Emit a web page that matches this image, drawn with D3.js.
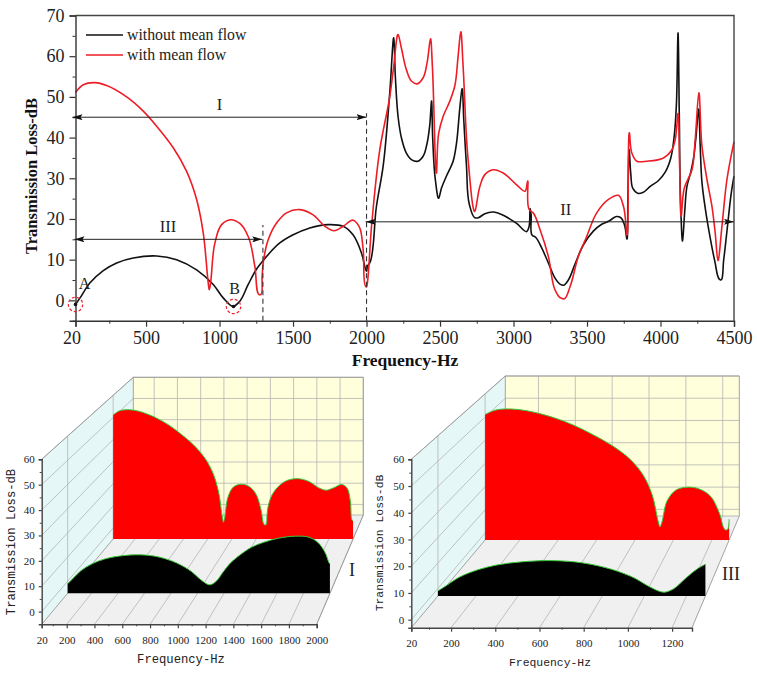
<!DOCTYPE html>
<html>
<head>
<meta charset="utf-8">
<script src="https://cdn.jsdelivr.net/npm/d3@7"></script>
<style>
html,body{margin:0;padding:0;background:#fff;}
svg{display:block;}
</style>
</head>
<body>
<svg id="chart" width="757" height="674"></svg>
<script>
// Transmission loss without mean flow: frequency (Hz)
const withoutFlowFreq = [20,51,119,209,300,413,572,708,844,957,1025,1093,1138,1195,1252,1290,1320,1410,1501,1614,1739,1841,1908,1966,1995,2000,2006,2022,2067,2113,2158,2185,2196,2215,2237,2271,2305,2350,2385,2412,2430,2442,2450,2467,2491,2510,2543,2589,2612,2634,2650,2662,2680,2700,2737,2760,2805,2862,2930,3021,3090,3105,3113,3120,3127,3150,3190,3237,3282,3316,3340,3373,3419,3475,3543,3600,3650,3700,3730,3755,3771,3778,3787,3798,3812,3845,3880,3930,3985,4032,4070,4095,4108,4119,4128,4136,4150,4165,4180,4205,4225,4241,4259,4270,4282,4305,4340,4370,4400,4410,4430,4455,4480,4500];
// Transmission loss without mean flow: level (dB)
const withoutFlowLoss = [-1,0.6,4.3,7.3,9.2,10.4,10.9,10,7.5,3.9,0.6,-1.5,-0.2,3.9,7.7,9.5,10.8,14.1,16.1,17.8,18.6,18.2,16.1,11.6,7.5,7.2,8.4,9.2,23,33,51,64.5,55,45,40,36.2,34.6,34.2,35.4,38.6,43,49,40,30,25.1,27.6,30.5,34.2,38.6,47,52,44,33,23.5,20.3,20.3,21.3,21.7,20.9,18.9,16.9,18,22.5,21,16,15.5,13,9.2,5.5,4,3.7,5,9,13.6,17,18.7,19.5,20.6,20.3,18.5,15.1,25,37,31,27.5,26.3,26.5,28,29.4,31.5,35,41,48,65.7,45,25,14.6,22,28,31.4,35,40,47,38,29,22.5,15,9.5,5.2,5,10,18,26,30.5];

// Transmission loss with mean flow: frequency (Hz)
const withFlowFreq = [20,73,153,232,368,481,572,685,776,844,889,923,930,939,968,1014,1075,1138,1195,1240,1270,1280,1290,1297,1331,1388,1456,1546,1637,1716,1779,1841,1908,1949,1977,1995,2000,2004,2034,2090,2158,2185,2215,2237,2271,2305,2344,2385,2412,2435,2448,2476,2491,2521,2566,2600,2623,2641,2657,2691,2737,2771,2805,2862,2930,3021,3078,3096,3107,3134,3180,3237,3282,3316,3346,3385,3441,3498,3566,3646,3714,3748,3771,3789,3805,3839,3907,4021,4078,4100,4119,4130,4141,4162,4214,4236,4261,4282,4316,4350,4372,4391,4418,4452,4500];
// Transmission loss with mean flow: level (dB)
const withFlowLoss = [51.1,53,53.5,52.8,50,46.5,42.8,37.5,31.7,24.8,16.6,4.3,2.6,4.3,14,18.6,19.8,18.9,15.7,8.4,1.4,1.4,6,9.2,14.9,19,21.5,22.3,21,18.2,17.1,18.2,19.7,18.2,12.5,3.4,3.3,3.9,18.2,37,50,57.5,65.3,62,56.7,53.9,53.2,54.7,58.4,64.3,57.5,31.3,41.1,45.2,48.9,52.6,60,66,57.5,34.6,21.9,28,30.9,32.1,31.3,28.4,26.8,29.3,22.3,21.5,17.4,10.8,2.6,0.7,0.4,3.4,10.8,15.7,21.5,24.8,25.8,23.1,16.1,41.1,36.2,34.2,34.2,35,37,39.5,45.9,33,20.7,27.6,32.1,39.5,51,37.9,29.7,23.1,16.6,9.8,18.2,29.7,39];

// Main panel ticks
const mainFreqTicks = [20,500,1000,1500,2000,2500,3000,3500,4000,4500];
const mainFreqMinor = [250,750,1250,1750,2250,2750,3250,3750,4250];
const mainLossTicks = [0,10,20,30,40,50,60,70];
const mainLossMinor = [-5,5,15,25,35,45,55,65];

// Series names and colours
const seriesNames = ["without mean flow","with mean flow"];
const seriesColors = ["#111111","#ee1c25"];

// Band annotations on the main panel: start Hz, end Hz, level dB, name
const bandNames = ["I","III","II"];
const bandStart = [20,20,2000];
const bandEnd = [2000,1290,4500];
const bandLevel = [45,15,19.3];

// Ticks of the two band panels
const bandIFreqTicks = [20,200,400,600,800,1000,1200,1400,1600,1800,2000];
const bandIFreqMinor = [100,300,500,700,900,1100,1300,1500,1700,1900];
const bandIIIFreqTicks = [20,200,400,600,800,1000,1200];
const bandIIIFreqMinor = [100,300,500,700,900,1100];
const bandLossTicks = [0,10,20,30,40,50,60];

const svg = d3.select("#chart");
const zip = (xs, ys) => xs.map((f, i) => ({f, v: ys[i]}));
const without = zip(withoutFlowFreq, withoutFlowLoss);
const withFlow = zip(withFlowFreq, withFlowLoss);
const SERIF = "'Liberation Serif', serif";
const MONO = "'Liberation Mono', monospace";
const smooth = d3.curveCatmullRom.alpha(0.7);

/* ---------- main panel ---------- */
const x = d3.scaleLinear().domain([20, 4500]).range([75.5, 734]);
const y = d3.scaleLinear().domain([-5, 70]).range([320.7, 15.5]);
const mainLine = d3.line().x(d => x(d.f)).y(d => y(d.v)).curve(smooth);

const main = svg.append("g");
const defs = svg.append("defs");
["start","end"].forEach(kind => {
  defs.append("marker").attr("id", "arrow-" + kind)
    .attr("markerUnits", "userSpaceOnUse")
    .attr("viewBox", "0 0 10 6").attr("refX", kind === "end" ? 10 : 0).attr("refY", 3)
    .attr("markerWidth", 10).attr("markerHeight", 6).attr("orient", "auto")
    .append("path")
    .attr("d", kind === "end" ? "M0,0L10,3L0,6L2,3Z" : "M10,0L0,3L10,6L8,3Z")
    .attr("fill", "#111");
});

main.append("path").datum(without).attr("d", mainLine)
  .attr("fill", "none").attr("stroke", seriesColors[0]).attr("stroke-width", 1.6);
main.append("path").datum(withFlow).attr("d", mainLine)
  .attr("fill", "none").attr("stroke", seriesColors[1]).attr("stroke-width", 1.6);

// Frame
main.append("path")
  .attr("d", `M${x(20)},${y(70)}H${x(4500)}V${y(-5)}`)
  .attr("fill", "none").attr("stroke", "#444").attr("stroke-width", 1.4);

function styleAxis(g, size, family, color) {
  g.selectAll(".domain").attr("stroke", color).attr("stroke-width", 1.4);
  g.selectAll(".tick line").attr("stroke", color).attr("stroke-width", 1.2);
  g.selectAll(".tick text").attr("font-size", size).attr("font-family", family).attr("fill", "#222");
}
const bottom = main.append("g").attr("transform", `translate(0,${y(-5)})`)
  .call(d3.axisBottom(x).tickValues(mainFreqTicks).tickFormat(d3.format("d")).tickSize(6).tickPadding(5));
styleAxis(bottom, 18, SERIF, "#333");
bottom.selectAll(".tick text").filter(d => d === 20).attr("dx", -4);
main.append("g").attr("transform", `translate(0,${y(-5)})`)
  .call(d3.axisBottom(x).tickValues(mainFreqMinor).tickFormat("").tickSize(3))
  .call(g => { g.select(".domain").remove(); g.selectAll("line").attr("stroke", "#333"); });
const left = main.append("g").attr("transform", `translate(${x(20)},0)`)
  .call(d3.axisLeft(y).tickValues(mainLossTicks).tickFormat(d3.format("d")).tickSize(6).tickPadding(5));
styleAxis(left, 18, SERIF, "#333");
main.append("g").attr("transform", `translate(${x(20)},0)`)
  .call(d3.axisLeft(y).tickValues(mainLossMinor).tickFormat("").tickSize(3))
  .call(g => { g.select(".domain").remove(); g.selectAll("line").attr("stroke", "#333"); });

main.append("text").attr("transform", "translate(37,176) rotate(-90)")
  .attr("text-anchor", "middle").attr("font-family", SERIF).attr("font-weight", "bold")
  .attr("font-size", 16.5).attr("fill", "#111").text("Transmission Loss-dB");
main.append("text").attr("x", 405).attr("y", 366)
  .attr("text-anchor", "middle").attr("font-family", SERIF).attr("font-weight", "bold")
  .attr("font-size", 17.5).attr("fill", "#111").text("Frequency-Hz");

// Legend
seriesNames.forEach((name, i) => {
  const ly = 35 + i * 20;
  main.append("line").attr("x1", 86).attr("x2", 123).attr("y1", ly).attr("y2", ly)
    .attr("stroke", seriesColors[i]).attr("stroke-width", 1.5);
  main.append("text").attr("x", 127).attr("y", ly + 5).attr("font-family", SERIF)
    .attr("font-size", 15.8).attr("fill", "#222").text(name);
});

// Dashed band limits
[[1295, 18.5], [2000, 46]].forEach(([f, top]) => {
  main.append("line").attr("x1", x(f)).attr("x2", x(f)).attr("y1", y(-5)).attr("y2", y(top))
    .attr("stroke", "#333").attr("stroke-width", 1.1).attr("stroke-dasharray", "5,3.5");
});

// Band arrows with their names
const bandLabelFreq = [1000, 650, 3355];
bandNames.forEach((name, i) => {
  main.append("line")
    .attr("x1", x(bandStart[i]) - (i === 0 ? 3 : 1)).attr("x2", x(bandEnd[i]))
    .attr("y1", y(bandLevel[i])).attr("y2", y(bandLevel[i]))
    .attr("stroke", "#222").attr("stroke-width", 1)
    .attr("marker-start", "url(#arrow-start)").attr("marker-end", "url(#arrow-end)");
  main.append("text").attr("x", x(bandLabelFreq[i])).attr("y", y(bandLevel[i]) - 7)
    .attr("text-anchor", "middle").attr("font-family", SERIF).attr("font-size", 16.5)
    .attr("fill", "#222").text(name);
});

// Marked points A and B
[["A", 20, -1, 9, -15], ["B", 1095, -1.5, 1, -12]].forEach(([name, f, v, dx, dy]) => {
  main.append("circle").attr("cx", x(f)).attr("cy", y(v)).attr("r", 7.2)
    .attr("fill", "none").attr("stroke", "#ee2233").attr("stroke-width", 1.2).attr("stroke-dasharray", "3,2");
  main.append("circle").attr("cx", x(f)).attr("cy", y(v)).attr("r", 1.8).attr("fill", "#111");
  main.append("text").attr("x", x(f) + dx).attr("y", y(v) + dy).attr("text-anchor", "middle")
    .attr("font-family", SERIF).attr("font-size", 16).attr("fill", "#222").text(name);
});

/* ---------- band panels in oblique view ---------- */
const lerp = (a, b, t) => a + (b - a) * t;

function bandPanel(o) {
  const g = svg.append("g");
  const fx0 = d3.scaleLinear().domain(o.freqDomain).range(o.frontX);
  const fx1 = d3.scaleLinear().domain(o.freqDomain).range(o.backX);
  const vy0 = d3.scaleLinear().domain(o.lossDomain).range(o.frontY);
  const vy1 = d3.scaleLinear().domain(o.lossDomain).range(o.backY);
  const px = (f, d) => lerp(fx0(f), fx1(f), d);
  const py = (v, d) => lerp(vy0(v), vy1(v), d);
  const poly = pts => "M" + pts.map(p => p.join(",")).join("L") + "Z";
  const [f0, f1] = o.freqDomain, [v0, v1] = o.lossDomain;

  g.append("path").attr("d", poly([[px(f0,1),py(v0,1)],[px(f1,1),py(v0,1)],[px(f1,1),py(v1,1)],[px(f0,1),py(v1,1)]]))
    .attr("fill", "#ffffdc");
  g.append("path").attr("d", poly([[px(f0,0),py(v0,0)],[px(f0,1),py(v0,1)],[px(f0,1),py(v1,1)],[px(f0,0),py(v1,0)]]))
    .attr("fill", "#e6f7f7");
  g.append("path").attr("d", poly([[px(f0,0),py(v0,0)],[px(f1,0),py(v0,0)],[px(f1,1),py(v0,1)],[px(f0,1),py(v0,1)]]))
    .attr("fill", "#f0f0f0");

  const gridLine = (a, b) => g.append("line")
    .attr("x1", a[0]).attr("y1", a[1]).attr("x2", b[0]).attr("y2", b[1])
    .attr("stroke", "#b4b4b4").attr("stroke-width", 0.8);
  o.lossTicks.forEach(v => {
    gridLine([px(f0,0),py(v,0)], [px(f0,1),py(v,1)]);
    gridLine([px(f0,1),py(v,1)], [px(f1,1),py(v,1)]);
  });
  o.freqTicks.filter(f => f !== f0).forEach(f => {
    gridLine([px(f,0),py(v0,0)], [px(f,1),py(v0,1)]);
    gridLine([px(f,1),py(v0,1)], [px(f,1),py(v1,1)]);
  });
  o.depths.forEach(d => gridLine([px(f0,d),py(v0,d)], [px(f0,d),py(v1,d)]));
  // Panel outline
  g.append("path").attr("d", `M${px(f0,0)},${py(v1,0)}L${px(f0,1)},${py(v1,1)}H${px(f1,1)}V${py(v0,1)}L${px(f1,0)},${py(v0,0)}`)
    .attr("fill", "none").attr("stroke", "#999").attr("stroke-width", 0.9);
  g.append("line").attr("x1", px(f0,1)).attr("x2", px(f0,1)).attr("y1", py(v0,1)).attr("y2", py(v1,1))
    .attr("stroke", "#999").attr("stroke-width", 0.9);
  g.append("line").attr("x1", px(f0,0)).attr("x2", px(f0,1)).attr("y1", py(v0,0)).attr("y2", py(v0,1))
    .attr("stroke", "#999").attr("stroke-width", 0.9);
  g.append("line").attr("x1", px(f0,1)).attr("x2", px(f1,1)).attr("y1", py(v0,1)).attr("y2", py(v0,1))
    .attr("stroke", "#aaa").attr("stroke-width", 0.8);

  // Ribbons, far one first
  const ribbons = [[withFlow, o.depths[1], "#ff0000"], [without, o.depths[0], "#000000"]];
  ribbons.forEach(([rows, d, color]) => {
    const pts = rows.filter(r => r.f <= f1);
    const area = d3.area().x(r => px(r.f, d)).y0(py(v0, d)).y1(r => py(r.v, d)).curve(smooth);
    const top = d3.line().x(r => px(r.f, d)).y(r => py(r.v, d)).curve(smooth);
    g.append("path").datum(pts).attr("d", area).attr("fill", color);
    g.append("path").datum(pts).attr("d", top).attr("fill", "none").attr("stroke", "#37c837").attr("stroke-width", 1);
  });

  // Front axes
  const ax = g.append("g").attr("transform", `translate(0,${o.frontY[0]})`)
    .call(d3.axisBottom(fx0).tickValues(o.freqTicks).tickFormat(d3.format("d")).tickSize(4).tickPadding(8));
  styleAxis(ax, o.tickSize, SERIF, "#444");
  g.append("g").attr("transform", `translate(0,${o.frontY[0]})`)
    .call(d3.axisBottom(fx0).tickValues(o.freqMinor).tickFormat("").tickSize(2))
    .call(s => { s.select(".domain").remove(); s.selectAll("line").attr("stroke", "#444"); });
  const ay = g.append("g").attr("transform", `translate(${o.frontX[0]},0)`)
    .call(d3.axisLeft(vy0).tickValues(o.lossTicks).tickFormat(d3.format("d")).tickSize(3).tickPadding(4));
  styleAxis(ay, o.tickSize, SERIF, "#444");
  g.append("g").attr("transform", `translate(${o.frontX[0]},0)`)
    .call(d3.axisLeft(vy0).tickValues(o.lossTicks.map(v => v + 5).filter(v => v < v1)).tickFormat("").tickSize(2))
    .call(s => { s.select(".domain").remove(); s.selectAll("line").attr("stroke", "#444"); });

  g.append("text").attr("transform", `translate(${o.yTitle[0]},${o.yTitle[1]}) rotate(-90)`)
    .attr("text-anchor", "middle").attr("font-family", MONO).attr("font-size", o.titleSize)
    .attr("fill", "#222").text("Transmission Loss-dB");
  g.append("text").attr("x", o.xTitle[0]).attr("y", o.xTitle[1])
    .attr("text-anchor", "middle").attr("font-family", MONO).attr("font-size", o.titleSize)
    .attr("fill", "#222").text("Frequency-Hz");
  g.append("text").attr("x", o.label[0]).attr("y", o.label[1])
    .attr("text-anchor", "middle").attr("font-family", SERIF).attr("font-size", 18)
    .attr("fill", "#222").text(o.name);
}

bandPanel({
  name: "I", freqDomain: [20, 2000], lossDomain: [-5, 60],
  frontX: [41.7, 316.7], backX: [133.3, 363.3],
  frontY: [624.3, 459.3], backY: [515, 377.3],
  depths: [0.2835, 0.78],
  freqTicks: bandIFreqTicks, freqMinor: bandIFreqMinor, lossTicks: bandLossTicks,
  tickSize: 11, titleSize: 12.2,
  yTitle: [15, 542], xTitle: [181, 663], label: [352, 576]
});
bandPanel({
  name: "III", freqDomain: [20, 1290], lossDomain: [-3, 60],
  frontX: [411.3, 692], backX: [505.3, 739.3],
  frontY: [627.7, 459.3], backY: [516, 376],
  depths: [0.2836, 0.785],
  freqTicks: bandIIIFreqTicks, freqMinor: bandIIIFreqMinor, lossTicks: bandLossTicks,
  tickSize: 11, titleSize: 11.4,
  yTitle: [383, 543], xTitle: [550, 666], label: [731, 580]
});
</script>
</body>
</html>
